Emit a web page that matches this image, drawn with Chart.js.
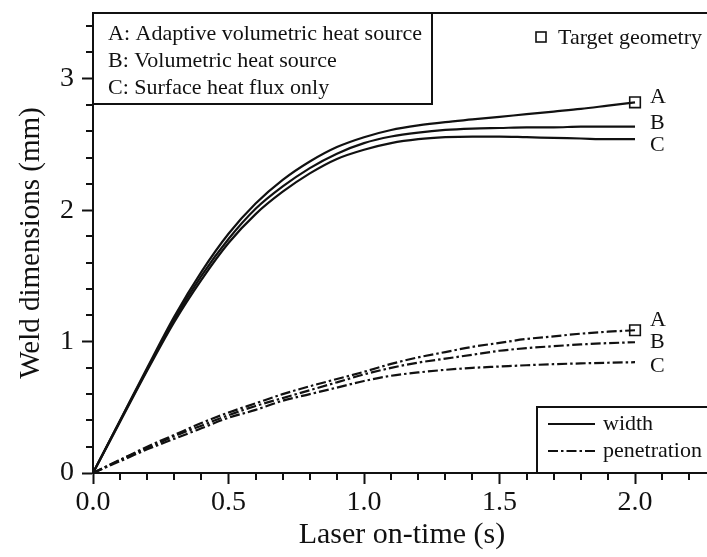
<!DOCTYPE html>
<html>
<head>
<meta charset="utf-8">
<script src="https://cdn.jsdelivr.net/npm/chart.js@4.4.1/dist/chart.umd.min.js"></script>
<style>
  html, body { margin: 0; padding: 0; background: #fff; overflow: hidden; }
  canvas { display: block; }
</style>
</head>
<body>
<canvas id="weldChart" width="720" height="557"></canvas>
<script>
// Laser on-time samples (s)
const times = [0.0, 0.1, 0.2, 0.3, 0.4, 0.5, 0.6, 0.7, 0.8, 0.9, 1.0,
               1.1, 1.2, 1.3, 1.4, 1.5, 1.6, 1.7, 1.8, 1.9, 2.0];

// Weld width (mm)
const widthA = [0, 0.40, 0.80, 1.19, 1.53, 1.82, 2.05, 2.23, 2.37, 2.48, 2.555,
                2.61, 2.645, 2.67, 2.69, 2.71, 2.73, 2.75, 2.77, 2.795, 2.82];
const widthB = [0, 0.40, 0.79, 1.17, 1.50, 1.78, 2.01, 2.18, 2.32, 2.43, 2.51,
                2.56, 2.59, 2.61, 2.62, 2.625, 2.63, 2.63, 2.635, 2.635, 2.635];
const widthC = [0, 0.39, 0.78, 1.15, 1.47, 1.75, 1.97, 2.14, 2.28, 2.39, 2.46,
                2.51, 2.54, 2.555, 2.56, 2.56, 2.555, 2.55, 2.545, 2.54, 2.54];

// Weld penetration (mm)
const penA = [0, 0.10, 0.20, 0.29, 0.38, 0.46, 0.53, 0.60, 0.66, 0.715, 0.77,
              0.83, 0.88, 0.92, 0.96, 0.99, 1.02, 1.04, 1.06, 1.075, 1.086];
const penB = [0, 0.10, 0.19, 0.28, 0.36, 0.44, 0.51, 0.57, 0.63, 0.69, 0.75,
              0.80, 0.84, 0.87, 0.90, 0.93, 0.95, 0.965, 0.978, 0.988, 0.995];
const penC = [0, 0.09, 0.18, 0.26, 0.34, 0.42, 0.48, 0.55, 0.60, 0.65, 0.70,
              0.74, 0.765, 0.785, 0.80, 0.81, 0.82, 0.828, 0.834, 0.839, 0.843];

// Target geometry (width, penetration) at 2.0 s
const targetTime = [2.0, 2.0];
const targetValue = [2.82, 1.086];

const xTicks = [0.0, 0.5, 1.0, 1.5, 2.0];
const yTicks = [0, 1, 2, 3];
const caseLabels = ['A', 'B', 'C'];
const legendLines = ['A: Adaptive volumetric heat source', 'B: Volumetric heat source', 'C: Surface heat flux only'];

const ink = '#111';
const serif = "'Liberation Serif', 'Times New Roman', serif";
const dashDot = [10, 3, 2.5, 3];

const pts = ys => times.map((t, i) => ({ x: t, y: ys[i] }));

function curve(label, ys, dashed) {
  return {
    type: 'line',
    label: label,
    data: pts(ys),
    borderColor: ink,
    borderWidth: 2.2,
    borderDash: dashed ? dashDot : [],
    pointRadius: 0,
    cubicInterpolationMode: 'monotone',
    fill: false
  };
}

// frame, minor ticks, in-plot legends and end labels
const decorations = {
  id: 'decorations',
  afterDraw(chart) {
    const { ctx, chartArea: a, scales: { x, y } } = chart;
    ctx.save();
    ctx.strokeStyle = ink;
    ctx.fillStyle = ink;
    ctx.lineWidth = 2;

    // minor ticks
    ctx.beginPath();
    for (let v = 0.1; v < x.max; v += 0.1) {
      if (Math.abs(v / 0.5 - Math.round(v / 0.5)) < 1e-6) continue;
      const px = Math.round(x.getPixelForValue(v));
      ctx.moveTo(px, a.bottom);
      ctx.lineTo(px, a.bottom + 7);
    }
    for (let v = 0.2; v < y.max; v += 0.2) {
      if (Math.abs(v - Math.round(v)) < 1e-6) continue;
      const py = Math.round(y.getPixelForValue(v));
      ctx.moveTo(a.left, py);
      ctx.lineTo(a.left - 7, py);
    }
    ctx.stroke();

    // plot frame
    ctx.strokeRect(a.left, a.top, a.right - a.left, a.bottom - a.top);

    // case legend box
    ctx.fillStyle = '#fff';
    ctx.fillRect(a.left, a.top, 339, 91);
    ctx.strokeRect(a.left, a.top, 339, 91);
    ctx.fillStyle = ink;
    ctx.font = '22px ' + serif;
    ctx.textBaseline = 'middle';
    ctx.textAlign = 'left';
    legendLines.forEach((t, i) => ctx.fillText(t, a.left + 15, a.top + 21 + i * 27));

    // target geometry key
    ctx.lineWidth = 1.6;
    ctx.strokeRect(a.left + 443, a.top + 19, 10, 10);
    ctx.fillText('Target geometry', a.left + 465, a.top + 25);

    // line style key
    const kx = a.left + 444, ky = a.bottom - 66;
    ctx.lineWidth = 2;
    ctx.fillStyle = '#fff';
    ctx.fillRect(kx, ky, a.right - kx, a.bottom - ky);
    ctx.strokeRect(kx, ky, a.right - kx + 40, a.bottom - ky);
    ctx.fillStyle = ink;
    ctx.lineWidth = 2.2;
    ctx.beginPath();
    ctx.moveTo(kx + 11, ky + 17);
    ctx.lineTo(kx + 58, ky + 17);
    ctx.stroke();
    ctx.setLineDash(dashDot);
    ctx.beginPath();
    ctx.moveTo(kx + 11, ky + 44);
    ctx.lineTo(kx + 58, ky + 44);
    ctx.stroke();
    ctx.setLineDash([]);
    ctx.fillText('width', kx + 66, ky + 17);
    ctx.fillText('penetration', kx + 66, ky + 44);

    // A/B/C labels at the curve ends
    const lx = x.getPixelForValue(times[times.length - 1]) + 15;
    const last = arr => y.getPixelForValue(arr[arr.length - 1]);
    const widthShift = [-5, -3, 6];
    const penShift = [-10, 0, 4];
    [widthA, widthB, widthC].forEach((arr, i) => ctx.fillText(caseLabels[i], lx, last(arr) + widthShift[i]));
    [penA, penB, penC].forEach((arr, i) => ctx.fillText(caseLabels[i], lx, last(arr) + penShift[i]));
    ctx.restore();
  }
};

const ctx = document.getElementById('weldChart').getContext('2d');
const weldChart = new Chart(ctx, {
  data: {
    datasets: [
      curve('A width', widthA, false),
      curve('B width', widthB, false),
      curve('C width', widthC, false),
      curve('A penetration', penA, true),
      curve('B penetration', penB, true),
      curve('C penetration', penC, true),
      {
        type: 'scatter',
        label: 'Target geometry',
        data: targetTime.map((t, i) => ({ x: t, y: targetValue[i] })),
        pointStyle: 'rect',
        pointRadius: 7.5,
        pointBackgroundColor: '#fff',
        pointBorderColor: ink,
        pointBorderWidth: 1.6
      }
    ]
  },
  options: {
    responsive: false,
    animation: false,
    layout: { padding: { top: 13, right: 0, left: 0, bottom: 0 } },
    plugins: { legend: { display: false }, tooltip: { enabled: false } },
    scales: {
      x: {
        type: 'linear',
        min: 0,
        max: 2.28,
        afterBuildTicks: s => { s.ticks = xTicks.map(v => ({ value: v })); },
        afterFit: s => { s.height = 84; s.paddingLeft = 0; s.paddingRight = 0; },
        ticks: {
          color: ink,
          font: { family: serif, size: 28 },
          padding: 2,
          maxRotation: 0,
          callback: v => v.toFixed(1)
        },
        grid: { drawOnChartArea: false, drawTicks: true, tickLength: 11, tickColor: ink, tickWidth: 2 },
        border: { display: true, color: ink, width: 2 },
        title: {
          display: true,
          text: 'Laser on-time (s)',
          color: ink,
          font: { family: serif, size: 30 },
          padding: { top: 0, bottom: 4 }
        }
      },
      y: {
        type: 'linear',
        min: 0,
        max: 3.5,
        afterBuildTicks: s => { s.ticks = yTicks.map(v => ({ value: v })); },
        afterFit: s => { s.width = 93; s.paddingTop = 0; s.paddingBottom = 0; },
        ticks: {
          color: ink,
          font: { family: serif, size: 28 },
          padding: 8,
          callback: v => String(v)
        },
        grid: { drawOnChartArea: false, drawTicks: true, tickLength: 11, tickColor: ink, tickWidth: 2 },
        border: { display: true, color: ink, width: 2 },
        title: {
          display: true,
          text: 'Weld dimensions (mm)',
          color: ink,
          font: { family: serif, size: 29 },
          padding: { top: 14, bottom: 0 }
        }
      }
    }
  },
  plugins: [decorations]
});
</script>
</body>
</html>
